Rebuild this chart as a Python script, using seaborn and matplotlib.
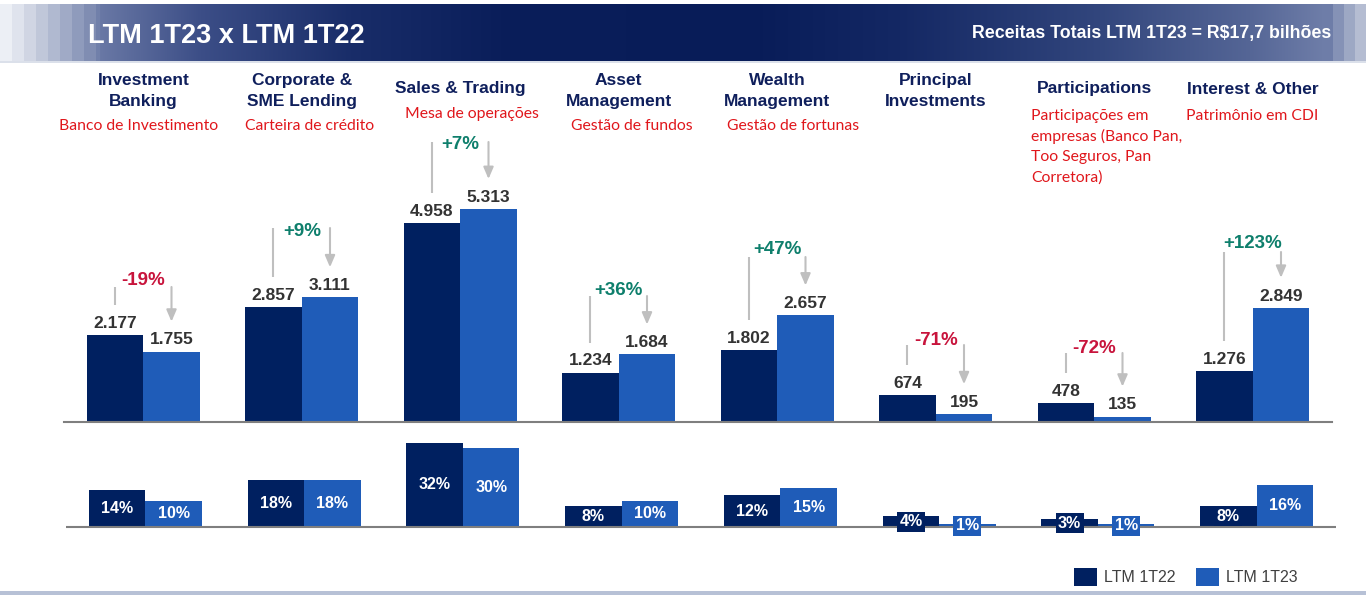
import numpy as np
import pandas as pd
import matplotlib
matplotlib.use("Agg")
import matplotlib.pyplot as plt
import seaborn as sns

# ---------------- data ----------------
categories = ["Investment Banking", "Corporate & SME Lending", "Sales & Trading",
              "Asset Management", "Wealth Management", "Principal Investments",
              "Participations", "Interest & Other"]
title_lines = ["Investment\nBanking", "Corporate &\nSME Lending", "Sales & Trading",
               "Asset\nManagement", "Wealth\nManagement", "Principal\nInvestments",
               "Participations", "Interest & Other"]
subtitles = ["Banco de Investimento", "Carteira de crédito", "Mesa de operações",
             "Gestão de fundos", "Gestão de fortunas", "",
             "Participações em\nempresas (Banco Pan,\nToo Seguros, Pan\nCorretora)",
             "Patrimônio em CDI"]
periods = ["LTM 1T22", "LTM 1T23"]
rev_1t22 = [2177, 2857, 4958, 1234, 1802, 674, 478, 1276]
rev_1t23 = [1755, 3111, 5313, 1684, 2657, 195, 135, 2849]
yoy_change = [-19, 9, 7, 36, 47, -71, -72, 123]
share_1t22 = [14, 18, 32, 8, 12, 4, 3, 8]
share_1t23 = [10, 18, 30, 10, 15, 1, 1, 16]
header_title = "LTM 1T23 x LTM 1T22"
header_total = "Receitas Totais LTM 1T23 = R$17,7 bilhões"

# ---------------- layout / style ----------------
W, H = 1366, 595
DARK = "#002060"
LIGHT = "#1F5CB8"
NAVY_TXT = "#0F1F5C"
RED_TXT = "#E0161B"
POS = "#0E7F6C"
NEG = "#C8143C"
GRAY_ARW = "#BFBFBF"
VAL_TXT = "#333333"

sns.set_theme(style="white")
plt.rcParams["font.family"] = ["Liberation Sans", "DejaVu Sans"]

fig = plt.figure(figsize=(W / 100, H / 100), dpi=100)
fig.patch.set_facecolor("white")


def fy(y):
    return 1 - y / H


def fx(x):
    return x / W


# ---------------- header band ----------------
xs = np.arange(W, dtype=float)
xq = np.where(xs < 100, (xs // 12) * 12,
              np.where(xs > 1322, 1322 + ((xs - 1322) // 11) * 11, xs))
stops_x = [0, 12, 24, 36, 48, 60, 72, 84, 96, 100, 200, 350, 500, 750, 900,
           1100, 1250, 1322, 1345, 1366]
stops_c = [(236, 239, 245), (223, 227, 237), (208, 213, 227), (192, 199, 217),
           (176, 185, 208), (160, 170, 198), (143, 155, 188), (128, 141, 178),
           (113, 128, 170), (105, 120, 165), (60, 78, 135), (25, 45, 105),
           (10, 30, 90), (8, 28, 88), (20, 40, 100), (50, 70, 125),
           (85, 102, 150), (110, 125, 168), (160, 170, 198), (205, 210, 225)]
stops_c = np.array(stops_c) / 255.0
grad = np.stack([np.interp(xq, stops_x, stops_c[:, k]) for k in range(3)], axis=-1)
hdr = fig.add_axes([0, fy(61), 1, 57 / H])
hdr.imshow(grad[None, :, :], aspect="auto", extent=(0, W, 0, 1))
hdr.set_axis_off()
line_ax = fig.add_axes([0, fy(63), 1, 2 / H])
line_ax.imshow(np.array([[[0.86, 0.88, 0.92]]]), aspect="auto")
line_ax.set_axis_off()
bot_ax = fig.add_axes([0, 0, 1, 4 / H])
bot_ax.imshow(np.array([[[0.72, 0.76, 0.84]]]), aspect="auto")
bot_ax.set_axis_off()

fig.text(fx(88), fy(43), header_title, color="white", fontsize=19.5,
         fontweight="bold", ha="left", va="baseline")
fig.text(fx(1331), fy(38), header_total, color="white", fontsize=12.8,
         fontweight="bold", ha="right", va="baseline")

# ---------------- upper chart (revenues) ----------------
UNITS_PER_PX = 24.94
ax = fig.add_axes([fx(64), fy(422), 1268 / W, 292 / H])
df = pd.DataFrame({
    "category": categories * 2,
    "period": [periods[0]] * len(categories) + [periods[1]] * len(categories),
    "value": rev_1t22 + rev_1t23,
})
sns.barplot(data=df, x="category", y="value", hue="period", order=categories,
            hue_order=periods, palette=[DARK, LIGHT], width=0.713, gap=0,
            saturation=1, linewidth=0, errorbar=None, legend=False, ax=ax)
ax.set_xlim(-0.5, len(categories) - 0.5)
ax.set_ylim(0, 292 * UNITS_PER_PX)
ax.set_xticks([])
ax.set_yticks([])
ax.set_xlabel("")
ax.set_ylabel("")
ax.set_facecolor("none")
for s in ["left", "right", "top"]:
    ax.spines[s].set_visible(False)
ax.spines["bottom"].set_color("#7F7F7F")
ax.spines["bottom"].set_linewidth(1.5)


def fmt_thousands(v):
    return f"{v:,}".replace(",", ".")


for cont, vals in zip(ax.containers, [rev_1t22, rev_1t23]):
    ax.bar_label(cont, labels=[fmt_thousands(v) for v in vals], padding=3,
                 fontsize=12.5, fontweight="bold", color=VAL_TXT)

# change annotations (heights of connector tops and of the % text, in data units)
ann_top = [3367, 4838, 6983, 3142, 4115, 1920, 1721, 4240]
ann_text = [3517, 4739, 6933, 3292, 4290, 2045, 1821, 4464]
gap_units = 30 * UNITS_PER_PX
bars_a = list(ax.containers[0])
bars_b = list(ax.containers[1])
for i, ch in enumerate(yoy_change):
    ba, bb = bars_a[i], bars_b[i]
    xa = ba.get_x() + ba.get_width() / 2
    xb = bb.get_x() + bb.get_width() / 2
    top = ann_top[i]
    ax.plot([xa, xa], [ba.get_height() + gap_units, top], color=GRAY_ARW,
            lw=1.5, solid_capstyle="butt", clip_on=False)
    ax.annotate("", xy=(xb, bb.get_height() + gap_units), xytext=(xb, top),
                arrowprops=dict(arrowstyle="-|>,head_length=0.7,head_width=0.3",
                                color=GRAY_ARW, lw=1.5, mutation_scale=10,
                                shrinkA=0, shrinkB=0), annotation_clip=False)
    ax.annotate(f"{ch:+d}%", xy=((xa + xb) / 2, ann_text[i]), xytext=(0, 0),
                textcoords="offset points", ha="center", va="center",
                fontsize=13.5, fontweight="bold",
                color=POS if ch >= 0 else NEG, annotation_clip=False)

# category titles & subtitles
centers_px = [143.5 + 158.43 * i for i in range(len(categories))]
sub_left = [59, 245, 405, 571, 727, None, 1031, 1186]
sub_base = [130, 130, 118, 130, 130, None, 120, 120]
for i, t in enumerate(title_lines):
    lines = t.split("\n")
    bases = [85, 106] if len(lines) == 2 else [93.5]
    for ln, b in zip(lines, bases):
        fig.text(fx(centers_px[i]), fy(b), ln, color=NAVY_TXT, fontsize=12.5,
                 fontweight="bold", ha="center", va="baseline")
    if subtitles[i]:
        for k, ln in enumerate(subtitles[i].split("\n")):
            fig.text(fx(sub_left[i]), fy(sub_base[i] + 20.5 * k), ln,
                     color=RED_TXT, fontsize=11.3, family=["Lato", "DejaVu Sans"],
                     ha="left", va="baseline")

# ---------------- lower chart (shares) ----------------
PX_PER_PCT = 2.63
ax2 = fig.add_axes([fx(66), fy(545), 1270 / W, 110 / H])
df2 = pd.DataFrame({
    "category": categories * 2,
    "period": [periods[0]] * len(categories) + [periods[1]] * len(categories),
    "share": share_1t22 + share_1t23,
})
sns.barplot(data=df2, x="category", y="share", hue="period", order=categories,
            hue_order=periods, palette=[DARK, LIGHT], width=0.713, gap=0,
            saturation=1, linewidth=0, errorbar=None, legend=True, ax=ax2)
ax2.set_xlim(-0.5, len(categories) - 0.5)
ax2.set_ylim(-18 / PX_PER_PCT, 92 / PX_PER_PCT)
ax2.set_xticks([])
ax2.set_yticks([])
ax2.set_xlabel("")
ax2.set_ylabel("")
ax2.set_facecolor("none")
for s in ["left", "right", "top", "bottom"]:
    ax2.spines[s].set_visible(False)
ax2.axhline(0, color="#7F7F7F", lw=1.5, zorder=1.5)

for cont, vals, col in zip(ax2.containers, [share_1t22, share_1t23], [DARK, LIGHT]):
    ax2.bar_label(cont, labels=[f"{v}%" for v in vals], label_type="center",
                  fontsize=11.5, fontweight="bold", color="white",
                  bbox=dict(boxstyle="square,pad=0.15", fc=col, ec="none"))

sns.move_legend(ax2, loc="center", bbox_to_anchor=(fx(1186), fy(577)),
                bbox_transform=fig.transFigure, ncol=2, title=None,
                frameon=False, fontsize=11.5, handlelength=1.45,
                handleheight=1.45, handletextpad=0.45, columnspacing=1.25)
leg = ax2.get_legend()
for t in leg.get_texts():
    t.set_color("#404040")

fig.savefig("out.png", dpi=100)
